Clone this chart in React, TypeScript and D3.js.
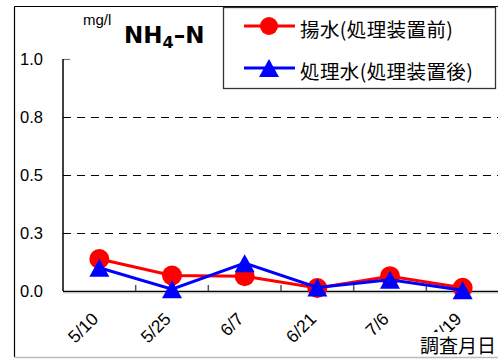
import React from "react";
import * as d3 from "d3";

const categories = ["5/10", "5/25", "6/7", "6/21", "7/6", "7/19"];
const rawWater = [0.138, 0.067, 0.064, 0.013, 0.064, 0.014];
const treatedWater = [0.1, 0.008, 0.12, 0.015, 0.048, 0.003];
const yTickValues = [0, 0.25, 0.5, 0.75, 1.0];
const yTickLabels = ["0.0", "0.3", "0.5", "0.8", "1.0"];
const seriesNames = ["揚水(処理装置前)", "処理水(処理装置後)"];
const xAxisTitle = "調査月日";

const W = 498;
const H = 360;
const ARIAL = "'Liberation Sans', Arial, sans-serif";
const BOLD = "'DejaVu Sans', Verdana, sans-serif";
const CJK = "'Noto Sans CJK JP', 'Noto Sans', sans-serif";

export default function App() {
  const left = 63, right = 499, top = 59, bottom = 291;
  const x = d3.scaleBand<string>().domain(categories).range([left, right]).padding(0);
  const y = d3.scaleLinear().domain([0, 1]).range([bottom, top]);
  const cx = (c: string) => (x(c) as number) + x.bandwidth() / 2;

  const line = d3
    .line<number>()
    .x((_, i) => cx(categories[i]))
    .y((d) => y(d));

  const triW = 20, triH = 18;
  const tri = (px: number, py: number) =>
    `M${px},${py - triH / 2}L${px + triW / 2},${py + triH / 2}L${px - triW / 2},${py + triH / 2}Z`;

  const boundaries = categories.slice(1).map((c) => x(c) as number);

  return (
    <svg width={W} height={H} style={{ position: "absolute", left: 0, top: 0, background: "#fff" }}>
      {/* outer frame */}
      <line x1={14.5} y1={6.5} x2={W} y2={6.5} stroke="#000" strokeWidth={1.2} />
      <line x1={14.5} y1={6.5} x2={14.5} y2={357} stroke="#000" strokeWidth={1.2} />
      <line x1={14.5} y1={357.5} x2={W} y2={357.5} stroke="#bbb" strokeWidth={1.5} />

      {/* grid lines */}
      {yTickValues.filter((v) => v > 0 && v < 1).map((v) => (
        <line key={v} x1={left} x2={right} y1={Math.round(y(v)) + 0.5} y2={Math.round(y(v)) + 0.5}
          stroke="#000" strokeWidth={1} strokeDasharray="8,6" />
      ))}
      {/* top tick */}
      <line x1={left} x2={left + 7} y1={y(1) + 0.5} y2={y(1) + 0.5} stroke="#777" strokeWidth={1.2} />

      {/* axes */}
      <line x1={left} x2={left} y1={y(1)} y2={bottom} stroke="#000" strokeWidth={1.5} />
      <line x1={left} x2={right} y1={bottom + 0.5} y2={bottom + 0.5} stroke="#000" strokeWidth={1.5} />
      <line x1={left} x2={right} y1={bottom + 2} y2={bottom + 2} stroke="#ccc" strokeWidth={1} />
      {boundaries.map((b, i) => (
        <line key={i} x1={b} x2={b} y1={bottom} y2={bottom - 6} stroke="#555" strokeWidth={1.5} />
      ))}

      {/* y labels */}
      {yTickValues.map((v, i) => (
        <text key={v} x={43} y={y(v)} textAnchor="end" dominantBaseline="central"
          fontFamily={ARIAL} fontSize={16.5} fill="#000">{yTickLabels[i]}</text>
      ))}

      {/* x labels */}
      {categories.map((c) => (
        <text key={c} transform={`translate(${cx(c)},${320}) rotate(-45)`} textAnchor="end"
          fontFamily={ARIAL} fontSize={17.5} fill="#000">{c}</text>
      ))}

      {/* series 1 */}
      <path d={line(rawWater) as string} fill="none" stroke="#ff0000" strokeWidth={3} />
      {rawWater.map((v, i) => (
        <circle key={i} cx={cx(categories[i])} cy={y(v)} r={10} fill="#ff0000" />
      ))}
      {/* series 2 */}
      <path d={line(treatedWater) as string} fill="none" stroke="#0000ff" strokeWidth={3} />
      {treatedWater.map((v, i) => (
        <path key={i} d={tri(cx(categories[i]), y(v))} fill="#0000ff" />
      ))}

      {/* x axis title */}
      <rect x={418} y={332} width={80} height={24} fill="#fff" />
      <text x={420} y={344} dominantBaseline="central" fontFamily={CJK} fontSize={19} fill="#000">{xAxisTitle}</text>

      {/* title */}
      <text x={83} y={25} fontFamily={ARIAL} fontSize={15} fill="#000">mg/l</text>
      <text x={124} y={43} fontFamily={BOLD} fontSize={23} fontWeight="bold" fill="#000">
        NH<tspan fontSize={16} dy={5}>4</tspan><tspan dy={-5}>–N</tspan>
      </text>

      {/* legend */}
      <rect x={223.5} y={7.5} width={272} height={81} fill="#fff" stroke="#333" strokeWidth={1.3} />
      <line x1={244} x2={295} y1={26} y2={26} stroke="#ff0000" strokeWidth={3} />
      <circle cx={269} cy={26} r={9} fill="#ff0000" />
      <text x={300} y={28} dominantBaseline="central" fontFamily={CJK} fontSize={19.5} letterSpacing={0.4} fill="#000">{seriesNames[0]}</text>
      <line x1={244} x2={295} y1={68} y2={68} stroke="#0000ff" strokeWidth={3} />
      <path d={tri(269, 68)} fill="#0000ff" />
      <text x={300} y={70} dominantBaseline="central" fontFamily={CJK} fontSize={19.5} letterSpacing={0.4} fill="#000">{seriesNames[1]}</text>
    </svg>
  );
}
